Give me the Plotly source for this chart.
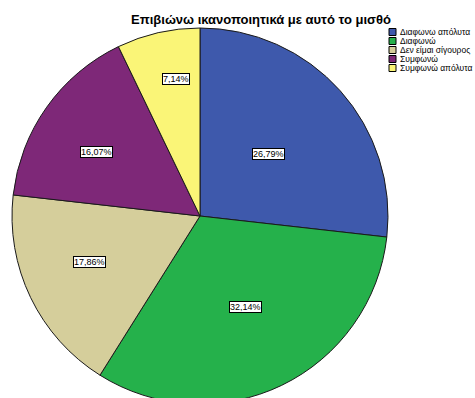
import math
import plotly.graph_objects as go

# Survey answers: "Επιβιώνω ικανοποιητικά με αυτό το μισθό"
categories = [
    "Διαφωνω απόλυτα",
    "Διαφωνώ",
    "Δεν είμαι σίγουρος",
    "Συμφωνώ",
    "Συμφωνώ απόλυτα",
]
counts = [15, 18, 10, 9, 4]
colors = ["#3E59AC", "#25B14B", "#D5CE9B", "#7E2878", "#FAF577"]

TITLE = "Επιβιώνω ικανοποιητικά με αυτό το μισθό"
FONT = "Liberation Sans, Arial, sans-serif"

# Page geometry (pixels)
W, H = 475, 404
PIE_CX, PIE_CY, PIE_R = 200, 216, 188

# Percentage label placement: fraction of radius and angular nudge (deg)
label_radius = [0.49, 0.54, 0.635, 0.65, 0.74]
label_nudge = [-0.6, -1.1, 3.0, -3.5, 3.0]

total = sum(counts)
shares = [c / total * 100 for c in counts]
pct_text = [f"{s:.2f}".replace(".", ",") + "%" for s in shares]

fig = go.Figure(
    go.Pie(
        labels=categories,
        values=counts,
        sort=False,
        direction="clockwise",
        rotation=0,
        marker=dict(colors=colors, line=dict(color="#1a1a1a", width=1)),
        textinfo="none",
        hoverinfo="label+percent",
        showlegend=False,
        domain=dict(
            x=[(PIE_CX - PIE_R) / W, (PIE_CX + PIE_R) / W],
            y=[1 - (PIE_CY + PIE_R) / H, 1 - (PIE_CY - PIE_R) / H],
        ),
    )
)

annotations = []
shapes = []

# Boxed percentage labels inside each slice
start = 0.0
for s, txt, rf, nudge in zip(shares, pct_text, label_radius, label_nudge):
    mid = start + s / 100 * 360 / 2 + nudge
    start += s / 100 * 360
    th = math.radians(mid)
    px = PIE_CX + rf * PIE_R * math.sin(th)
    py = PIE_CY - rf * PIE_R * math.cos(th)
    annotations.append(
        dict(
            x=px / W, y=1 - py / H, xref="paper", yref="paper",
            text=txt, showarrow=False, xanchor="center", yanchor="middle",
            font=dict(family=FONT, size=9, color="#000000"),
            bgcolor="#FFFFFF", bordercolor="#000000", borderwidth=1, borderpad=0,
        )
    )

# Legend drawn as swatches + text
LEG_X, LEG_Y0, LEG_STEP, SW = 389, 28.5, 9, 7
for i, (lab, col) in enumerate(zip(categories, colors)):
    y0 = LEG_Y0 + i * LEG_STEP
    shapes.append(
        dict(
            type="rect", xref="paper", yref="paper",
            x0=LEG_X / W, x1=(LEG_X + SW) / W,
            y0=1 - y0 / H, y1=1 - (y0 + SW) / H,
            fillcolor=col, line=dict(color="#000000", width=1),
        )
    )
    annotations.append(
        dict(
            x=(LEG_X + SW + 2) / W, y=1 - (y0 + SW / 2) / H,
            xref="paper", yref="paper", text=lab, showarrow=False,
            xanchor="left", yanchor="middle",
            font=dict(family=FONT, size=8.5, color="#000000"),
        )
    )

fig.update_layout(
    width=W,
    height=H,
    margin=dict(l=0, r=0, t=0, b=0),
    paper_bgcolor="#FFFFFF",
    plot_bgcolor="#FFFFFF",
    title=dict(
        text=f"<b>{TITLE}</b>",
        x=261 / W, y=1 - 19 / H, xanchor="center", yanchor="middle",
        xref="paper", yref="container",
        font=dict(family=FONT, size=13, color="#000000"),
    ),
    annotations=annotations,
    shapes=shapes,
)

fig.write_html(
    "out.html",
    post_script="document.documentElement.style.overflow='hidden';document.body.style.overflow='hidden';document.body.style.margin='0';",
)
